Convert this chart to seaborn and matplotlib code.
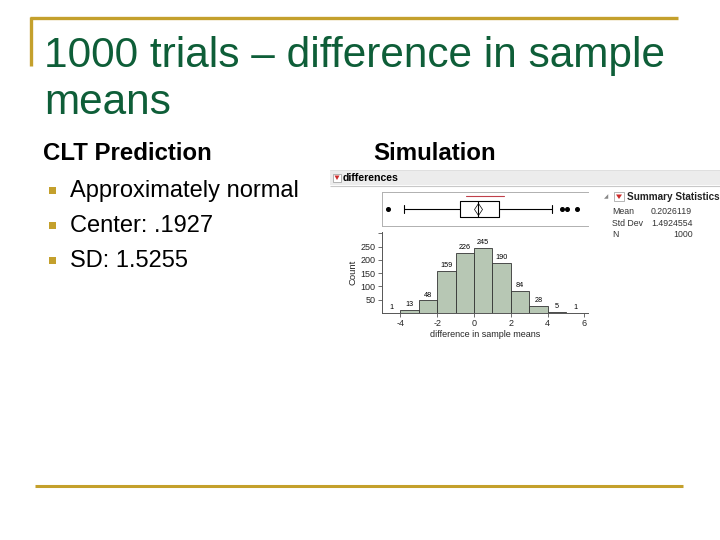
import matplotlib
matplotlib.use("Agg")
import matplotlib.pyplot as plt
import seaborn as sns
import numpy as np
from matplotlib.lines import Line2D
from matplotlib.patches import Rectangle, Polygon

# ---------------- data ----------------
title_lines = ["1000 trials \u2013 difference in sample", "means"]
left_heading = "CLT Prediction"
right_heading = "Simulation"
bullets = ["Approximately normal", "Center: .1927", "SD: 1.5255"]

bin_edges = [-5, -4, -3, -2, -1, 0, 1, 2, 3, 4, 5, 6]
bin_counts = [1, 13, 48, 159, 226, 245, 190, 84, 28, 5, 1]
x_ticks = [-4, -2, 0, 2, 4, 6]
y_ticks = [50, 100, 150, 200, 250, 300]
y_tick_labels = ["50", "100", "150", "200", "250", ""]

box_q1, box_med, box_q3 = -0.76, 0.23, 1.37
whisker_lo, whisker_hi = -3.82, 4.25
outliers = [-4.68, 4.77, 5.05, 5.59]
shortest_half = [-0.43, 1.64]
sample_mean = 0.2026119

stat_names = ["Mean", "Std Dev", "N"]
stat_values = ["0.2026119", "1.4924554", "1000"]

# ---------------- style ----------------
sns.set_theme(style="white")
plt.rcParams['font.family'] = ['Liberation Sans', 'DejaVu Sans']

W, H = 720, 540
fig = plt.figure(figsize=(7.2, 5.4), dpi=100)
fig.patch.set_facecolor("white")

def fx(x):
    return x / W

def fy(y):
    return 1 - y / H

GOLD = "#c4a02c"
GREEN = "#0e5e38"

def hline(x0, x1, y, color, lw):
    fig.add_artist(Line2D([fx(x0), fx(x1)], [fy(y), fy(y)], color=color, lw=lw,
                          transform=fig.transFigure, solid_capstyle="butt"))

def vline(x, y0, y1, color, lw):
    fig.add_artist(Line2D([fx(x), fx(x)], [fy(y0), fy(y1)], color=color, lw=lw,
                          transform=fig.transFigure, solid_capstyle="butt"))

# slide decoration
hline(30, 678, 18, GOLD, 2.4)
vline(31, 17, 66, GOLD, 2.4)
hline(35, 683, 486, GOLD, 2.2)

# title
for i, line in enumerate(title_lines):
    fig.text(fx(44), fy(67 + 47 * i), line, color=GREEN, fontsize=30.5,
             ha="left", va="baseline")

# left column
fig.text(fx(43), fy(160), left_heading, fontsize=17.3, fontweight="bold",
         color="black", ha="left", va="baseline")
for i, b in enumerate(bullets):
    yb = 190 + 35 * i
    fig.add_artist(Rectangle((fx(49), fy(yb + 3.5)), 7 / W, 7 / H,
                             transform=fig.transFigure, color=GOLD, lw=0))
    fig.text(fx(70), fy(yb + 7), b, fontsize=17, color="black",
             ha="left", va="baseline")

fig.text(fx(373), fy(160), right_heading, fontsize=17.3, fontweight="bold",
         color="black", ha="left", va="baseline")

# JMP header bar
fig.add_artist(Rectangle((fx(330), fy(185)), (720 - 330) / W, 15 / H,
                         transform=fig.transFigure, color="#ececec", lw=0))
hline(330, 720, 185.5, "#c8c8c8", 0.8)
hline(330, 720, 170, "#dddddd", 0.6)
# red triangle icon
fig.add_artist(Rectangle((fx(333), fy(182)), 8 / W, 8 / H, transform=fig.transFigure,
                         facecolor="white", edgecolor="#999999", lw=0.5))
fig.add_artist(Polygon([[fx(334.5), fy(175.5)], [fx(339.5), fy(175.5)], [fx(337), fy(180)]],
                       closed=True, transform=fig.transFigure, color="#cc2a2a", lw=0))
fig.text(fx(343), fy(178), "differences", fontsize=7.6, fontweight="bold",
         ha="left", va="center", color="black")

# ---------------- box plot ----------------
ax_box = fig.add_axes([fx(382), fy(226), (588 - 382) / W, (226 - 192) / H])
stats = [dict(med=box_med, q1=box_q1, q3=box_q3, whislo=whisker_lo,
              whishi=whisker_hi, fliers=outliers)]
ax_box.bxp(stats, orientation="horizontal", positions=[0], widths=[0.9],
           showfliers=True, showcaps=True,
           boxprops=dict(color="black", lw=0.8),
           whiskerprops=dict(color="black", lw=0.8),
           capprops=dict(color="black", lw=0.8),
           medianprops=dict(color="black", lw=0.8),
           flierprops=dict(marker="o", markersize=2.6, markerfacecolor="black",
                           markeredgecolor="black"))
ax_box.plot([sample_mean], [0], marker="d", markersize=6, markerfacecolor="none",
            markeredgecolor="black", markeredgewidth=0.5)
ax_box.plot(shortest_half, [0.78, 0.78], color="#c0404a", lw=0.8)
ax_box.set_xlim(-5, 6.2)
ax_box.set_ylim(-1, 1)
ax_box.set_xticks([])
ax_box.set_yticks([])
for s in ["top", "left", "bottom"]:
    ax_box.spines[s].set_color("#b0b0b0")
    ax_box.spines[s].set_linewidth(0.7)
ax_box.spines["right"].set_visible(False)
ax_box.patch.set_alpha(0)

# ---------------- histogram ----------------
ax = fig.add_axes([fx(382), fy(313), (588 - 382) / W, (313 - 232) / H])
mids = [(a + b) / 2 for a, b in zip(bin_edges[:-1], bin_edges[1:])]
sns.histplot(x=mids, weights=bin_counts, bins=bin_edges, ax=ax,
             color="#b7c7b4", edgecolor="#333333", linewidth=0.6, alpha=1)
ax.set_xlim(-5, 6.2)
ax.set_ylim(0, 305)
ax.set_xticks(x_ticks)
ax.set_xticklabels([str(t) for t in x_ticks], fontsize=6.5)
ax.set_yticks(y_ticks)
ax.set_yticklabels(y_tick_labels, fontsize=6.5)
ax.tick_params(axis="both", length=3, width=0.6, color="#555555", pad=1.5,
               direction="out", bottom=True, left=True)
ax.set_xlabel("difference in sample means", fontsize=6.5, labelpad=1)
ax.set_ylabel("Count", fontsize=6.8, labelpad=2.5)
for s in ["top", "right"]:
    ax.spines[s].set_visible(False)
for s in ["left", "bottom"]:
    ax.spines[s].set_color("#555555")
    ax.spines[s].set_linewidth(0.7)
ax.patch.set_alpha(0)
for p, c in zip(ax.patches, bin_counts):
    ax.text(p.get_x() + p.get_width() / 2, p.get_height() + 6, str(c),
            fontsize=5.2, ha="center", va="bottom", color="black")

# ---------------- summary statistics ----------------
fig.text(fx(604), fy(197), "\u25e2", fontsize=4, color="#888888", ha="left", va="center",
         family=["DejaVu Sans"])
fig.add_artist(Rectangle((fx(614), fy(201)), 10 / W, 9 / H, transform=fig.transFigure,
                         facecolor="white", edgecolor="#999999", lw=0.5))
fig.add_artist(Polygon([[fx(616), fy(194.5)], [fx(622), fy(194.5)], [fx(619), fy(199)]],
                       closed=True, transform=fig.transFigure, color="#cc2a2a", lw=0))
fig.text(fx(627), fy(196.5), "Summary Statistics", fontsize=7.2, fontweight="bold",
         ha="left", va="center", color="#222222")
for i, (n, v) in enumerate(zip(stat_names, stat_values)):
    yy = 211 + 12 * i
    fig.text(fx(612), fy(yy), n, fontsize=6.3, ha="left", va="center", color="#333333")
    if n == "N":
        fig.text(fx(693), fy(yy), v, fontsize=6.3, ha="right", va="center", color="#333333")
    else:
        fig.text(fx(651), fy(yy), v, fontsize=6.3, ha="left", va="center", color="#333333")

fig.savefig("out.png", dpi=100)
